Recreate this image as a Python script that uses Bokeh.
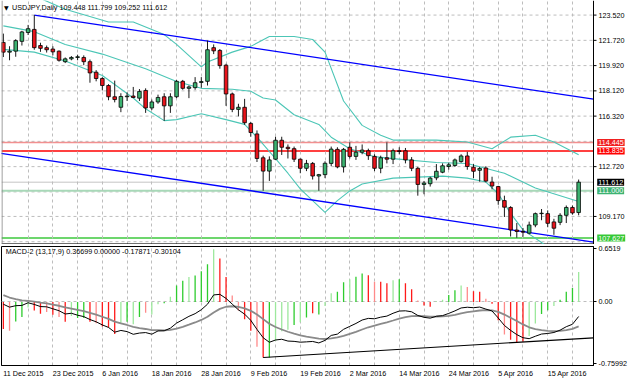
from bokeh.plotting import figure
from bokeh.layouts import column
from bokeh.models import Range1d, FixedTicker, Label, Span, ColumnDataSource, NumeralTickFormatter
from bokeh.embed import file_html
from bokeh.resources import INLINE

# ------------------------------------------------------------------ data
date_tick_bars = [0, 8, 16, 24, 32, 40, 48, 56, 64, 72, 80, 88]
date_tick_labels = ["11 Dec 2015", "23 Dec 2015", "6 Jan 2016", "18 Jan 2016", "28 Jan 2016",
                    "9 Feb 2016", "19 Feb 2016", "2 Mar 2016", "14 Mar 2016", "24 Mar 2016",
                    "5 Apr 2016", "15 Apr 2016"]

opens = [121.57, 120.88, 120.95, 121.65, 122.28, 122.50, 121.35, 121.20, 121.10, 120.95,
         120.20, 120.40, 120.50, 120.50, 120.20, 119.45, 119.00, 118.50, 117.70, 116.95,
         117.70, 117.75, 117.60, 118.15, 116.90, 117.33, 117.70, 117.05, 117.70, 118.80,
         118.30, 118.35, 118.72, 118.80, 121.20, 121.00, 119.95, 117.90, 116.80, 116.95,
         115.80, 115.05, 113.35, 112.40, 113.25, 114.60, 114.10, 114.00, 113.25, 112.60,
         112.95, 112.05, 112.15, 112.95, 113.95, 112.70, 114.10, 113.45, 113.75, 113.85,
         113.45, 112.60, 113.35, 113.25, 113.85, 113.85, 113.20, 112.60, 111.45, 111.50,
         111.92, 112.32, 112.73, 112.80, 113.08, 113.48, 112.68, 112.46, 112.62, 111.62,
         111.30, 110.30, 109.81, 108.20, 108.10, 107.98, 108.56, 109.37, 109.37, 108.78,
         108.75, 109.25, 109.81, 109.448]
highs = [122.20, 121.30, 121.80, 122.40, 122.82, 123.52, 121.55, 121.35, 121.30, 121.00,
         120.50, 120.60, 120.70, 120.65, 120.35, 119.60, 119.10, 118.60, 118.85, 117.95,
         118.00, 118.40, 118.25, 118.30, 117.50, 117.85, 117.95, 117.95, 118.90, 118.90,
         118.50, 119.10, 119.10, 121.70, 121.43, 121.10, 120.05, 118.00, 117.20, 117.55,
         115.90, 115.30, 113.50, 113.45, 114.85, 114.85, 114.30, 114.15, 113.30, 113.20,
         113.05, 112.20, 113.10, 114.15, 114.10, 114.05, 114.45, 114.20, 114.30, 114.00,
         113.60, 113.50, 114.45, 114.00, 114.10, 114.05, 113.40, 112.70, 111.70, 112.00,
         112.90, 112.95, 113.00, 113.30, 113.60, 113.78, 112.90, 112.70, 112.75, 112.00,
         111.35, 110.65, 109.90, 108.70, 108.35, 108.80, 109.45, 109.70, 109.60, 109.00,
         109.40, 109.95, 109.95, 111.799]
lows = [120.53, 120.30, 120.55, 121.35, 122.10, 121.05, 120.90, 120.85, 120.65, 120.20,
        120.10, 120.30, 120.30, 119.95, 118.70, 118.80, 118.15, 117.45, 117.30, 116.60,
        117.40, 117.60, 117.40, 116.55, 116.75, 117.20, 115.98, 116.55, 117.60, 118.20,
        117.60, 118.20, 118.35, 118.50, 120.74, 119.70, 117.05, 116.60, 116.30, 115.70,
        114.85, 113.05, 111.00, 111.70, 113.20, 113.55, 113.30, 113.05, 112.25, 112.40,
        111.80, 111.00, 111.90, 112.75, 112.60, 112.30, 113.30, 113.20, 113.60, 113.20,
        112.40, 112.25, 112.95, 112.90, 113.60, 112.95, 112.40, 110.65, 110.75, 111.30,
        111.75, 112.25, 112.50, 112.70, 113.00, 112.50, 111.90, 111.65, 111.60, 111.10,
        110.00, 109.13, 107.74, 107.65, 107.72, 107.90, 108.40, 108.90, 108.40, 107.86,
        108.55, 108.70, 109.30, 109.252]
closes = [120.88, 120.95, 121.70, 122.32, 122.55, 121.20, 121.15, 121.05, 120.90, 120.30,
          120.40, 120.50, 120.55, 120.20, 119.40, 119.00, 118.50, 117.70, 117.50, 117.72,
          117.75, 117.65, 118.08, 116.90, 117.33, 117.65, 117.05, 117.70, 118.80, 118.30,
          118.40, 118.70, 118.78, 121.05, 120.97, 119.92, 117.90, 116.80, 116.95, 115.85,
          115.15, 113.30, 112.40, 113.20, 114.60, 114.10, 114.00, 113.25, 112.60, 112.95,
          112.05, 112.15, 112.96, 113.97, 112.70, 113.95, 113.45, 113.75, 113.90, 113.50,
          112.60, 113.35, 113.25, 113.85, 113.80, 113.20, 112.60, 111.45, 111.55, 111.90,
          112.39, 112.78, 112.85, 113.20, 113.48, 112.73, 112.39, 112.59, 111.69, 111.34,
          110.30, 109.83, 108.21, 108.10, 108.05, 108.56, 109.37, 109.40, 108.68, 108.33,
          109.25, 109.81, 109.42, 111.612]

# Bollinger bands (bar index, price)
bb_upper_x = [-1, 6, 10, 17, 21, 26, 28, 32, 33, 37, 40, 43, 47, 50, 52, 55, 58, 61, 63, 70, 75, 79, 82, 86, 89, 93]
bb_upper_y = [125.61, 124.70, 123.94, 123.03, 123.03, 122.13, 121.43, 119.83, 120.18, 120.88, 121.29, 121.99,
              121.99, 121.78, 120.88, 117.40, 115.66, 114.96, 114.61, 114.61, 114.47, 113.99, 114.82, 114.96,
              114.47, 113.57]
bb_mid_x = [0, 5, 10, 16, 23, 28, 32, 37, 40, 42, 44, 47, 51, 53, 56, 60, 63, 70, 75, 81, 86, 93]
bb_mid_y = [122.75, 122.34, 121.43, 120.74, 119.69, 118.79, 118.30, 118.23, 118.09, 117.61, 117.47, 116.42,
            115.73, 114.82, 113.99, 113.43, 113.29, 113.01, 112.94, 112.25, 111.20, 110.23]
bb_lower_x = [0, 5, 10, 16, 21, 23, 26, 28, 32, 36, 39, 41, 44, 46, 48, 50, 52, 54, 56, 58, 63, 71, 75, 78,
              80, 82, 84, 87, 89, 94]
bb_lower_y = [121.08, 120.88, 120.25, 119.21, 117.61, 116.84, 116.00, 116.07, 116.49, 116.07, 115.73, 114.82,
              113.29, 112.25, 111.13, 110.30, 109.46, 110.30, 110.99, 111.48, 111.90, 112.04, 111.90, 111.62,
              110.79, 109.39, 108.21, 107.31, 106.61, 106.05]

# trend channel, anchors (ends at the price scale)
chan_upper_x = [5, 95.4]
chan_upper_y = [123.52, 117.53]
chan_lower_x = [-1, 95.4]
chan_lower_y = [113.71, 107.34]

# horizontal price levels
level_prices = [114.445, 113.835, 111.612, 111.000, 107.627]
level_line_colors = ["#F29090", "#FF0000", "#C4C4C4", "#A8D8B8", "#3CC83C"]
level_box_colors = ["#F02020", "#FF0000", "#000000", "#3CB371", "#36C836"]
level_line_widths = [1.5, 1.5, 1, 2, 1.5]

price_grid = [123.52, 121.72, 119.92, 118.12, 116.32, 114.52, 112.72, 110.92, 109.17, 107.37]
price_ticks = [123.52, 121.72, 119.92, 118.12, 116.32, 112.72, 109.17]

# MACD-2 (13,17,9): histogram per bar and its colour class, MACD and signal lines
macd_hist = [-0.333, -0.353, -0.240, -0.184, -0.067, -0.106, -0.145, -0.125, -0.157, -0.184,
             -0.243, -0.173, -0.196, -0.196, -0.243, -0.263, -0.302, -0.314, -0.392, -0.263,
             -0.243, -0.275, -0.184, -0.133, -0.153, -0.027, -0.016, 0.063, 0.200, 0.259,
             0.306, 0.325, 0.376, 0.463, 0.645, 0.533, 0.306, 0.078, -0.106, -0.212,
             -0.353, -0.549, -0.682, -0.682, -0.478, -0.361, -0.341, -0.282, -0.250, -0.190,
             -0.140, -0.155, -0.050, 0.105, 0.124, 0.240, 0.279, 0.310, 0.349, 0.326,
             0.248, 0.248, 0.229, 0.267, 0.279, 0.229, 0.155, 0.016, -0.043, -0.058,
             0.008, 0.027, 0.085, 0.143, 0.200, 0.182, 0.132, 0.124, 0.039, -0.023,
             -0.225, -0.400, -0.465, -0.496, -0.488, -0.419, -0.264, -0.147, -0.101, -0.050,
             0.027, 0.124, 0.171, 0.367]
macd_hist_class = list("RrGGgRRrRr" "RgGGRrRRRg" "GgGrggGgGG" "gGGGgRRrrR"
                       "RrRGgggGgG" "RGggGGgGGR" "rRRgGRRrRR" "ggGGgrRRrR"
                       "RrRRRggGGg" "GGGg")
macd_main = [-0.028, -0.064, -0.046, -0.043, -0.010, -0.031, -0.057, -0.060, -0.084, -0.108,
             -0.148, -0.139, -0.163, -0.180, -0.216, -0.244, -0.282, -0.313, -0.371, -0.350,
             -0.364, -0.397, -0.382, -0.376, -0.396, -0.356, -0.354, -0.322, -0.260, -0.219,
             -0.177, -0.144, -0.096, -0.028, 0.086, 0.093, 0.043, -0.027, -0.097, -0.150,
             -0.226, -0.337, -0.439, -0.495, -0.467, -0.458, -0.480, -0.484, -0.494, -0.490,
             -0.485, -0.503, -0.472, -0.411, -0.395, -0.336, -0.300, -0.264, -0.222, -0.202,
             -0.207, -0.187, -0.174, -0.139, -0.112, -0.109, -0.121, -0.166, -0.189, -0.199,
             -0.176, -0.168, -0.141, -0.110, -0.074, -0.065, -0.071, -0.063, -0.088, -0.111,
             -0.197, -0.289, -0.349, -0.401, -0.439, -0.451, -0.421, -0.394, -0.387, -0.375,
             -0.346, -0.304, -0.274, -0.179]
macd_signal = [0.083, 0.054, 0.034, 0.018, 0.013, 0.004, -0.008, -0.019, -0.032, -0.047,
               -0.067, -0.082, -0.098, -0.114, -0.135, -0.157, -0.182, -0.208, -0.241, -0.263,
               -0.283, -0.306, -0.321, -0.332, -0.345, -0.347, -0.349, -0.343, -0.327, -0.305,
               -0.279, -0.252, -0.221, -0.182, -0.129, -0.085, -0.059, -0.053, -0.062, -0.079,
               -0.109, -0.154, -0.211, -0.268, -0.308, -0.338, -0.366, -0.390, -0.411, -0.426,
               -0.438, -0.451, -0.455, -0.446, -0.436, -0.416, -0.393, -0.367, -0.338, -0.311,
               -0.290, -0.269, -0.250, -0.228, -0.205, -0.186, -0.173, -0.171, -0.175, -0.180,
               -0.179, -0.177, -0.170, -0.158, -0.141, -0.126, -0.115, -0.105, -0.101, -0.103,
               -0.122, -0.155, -0.194, -0.235, -0.276, -0.311, -0.333, -0.345, -0.354, -0.358,
               -0.356, -0.345, -0.331, -0.301]
macd_trend_x = [42, 95.4]
macd_trend_v = [-0.682, -0.440]
macd_ticks = [0.6519, 0.0, -0.75992]
macd_tick_labels = ["0.6519", "0.00", "-0.75992"]

# ------------------------------------------------------------------ style / geometry
FONT = "Liberation Sans"
FS = "7.2px"
BULL = "#3CB371"
BEAR = "#E8141B"
BAND = "#4CC6B6"
GRID = "#BDBDBD"
HIST_COLORS = {"G": "#2ECC2E", "g": "#9DE89D", "R": "#FF1A1A", "r": "#FF8A8A"}
X0, XA = -0.3, 95.4           # left edge and price-scale position in bar units
CHART_W, SCALE_W = 592, 33     # chart width, price scale width (px)
XR = X0 + (CHART_W + SCALE_W) * (XA - X0) / CHART_W
TICK = 3.0 * (XA - X0) / CHART_W   # 3 px expressed in bar units
Y0, Y1 = 107.17, 124.56

n = len(closes)
bars = list(range(n))

# ------------------------------------------------------------------ price panel
p1 = figure(frame_width=CHART_W + SCALE_W, frame_height=244, x_range=Range1d(X0, XR),
            y_range=Range1d(Y0, Y1), y_axis_location="right", toolbar_location=None,
            output_backend="svg", min_border_left=1, min_border_right=0, min_border_top=0,
            min_border_bottom=0)
p1.xaxis.visible = False
p1.outline_line_color = None
p1.ygrid.visible = False
p1.xgrid.ticker = FixedTicker(ticks=list(range(4, 96, 4)))
p1.xgrid.grid_line_color = GRID
p1.xgrid.grid_line_dash = "3 3"

# price scale: real axis, labels placed inside the right-hand strip
p1.yaxis.ticker = FixedTicker(ticks=price_ticks)
p1.yaxis.formatter = NumeralTickFormatter(format="0.000")
p1.yaxis.major_label_standoff = -(SCALE_W - 5)
p1.yaxis.major_tick_out = 0
p1.yaxis.major_tick_in = 0
p1.yaxis.minor_tick_out = 0
p1.yaxis.minor_tick_in = 0
p1.yaxis.axis_line_color = None
p1.yaxis.major_label_text_font = FONT
p1.yaxis.major_label_text_font_size = FS
p1.yaxis.major_label_text_color = "black"

# horizontal grid (stops at the price scale)
p1.segment(x0=[X0] * len(price_grid), y0=price_grid, x1=[XA] * len(price_grid), y1=price_grid,
           line_color=GRID, line_dash="3 3", line_width=1, level="underlay")
# price levels
p1.segment(x0=[X0] * len(level_prices), y0=level_prices, x1=[XA] * len(level_prices), y1=level_prices,
           line_color=level_line_colors, line_width=level_line_widths, level="underlay")

# borders, scale line and its tick marks
p1.add_layout(Span(location=XA, dimension="height", line_color="black", line_width=1))
p1.add_layout(Span(location=X0 + 0.08, dimension="height", line_color="#808080", line_width=1))
p1.segment(x0=[X0], y0=[Y0 + 0.04], x1=[XA], y1=[Y0 + 0.04], line_color="black", line_width=1)
p1.segment(x0=[XA] * len(price_ticks), y0=price_ticks, x1=[XA + TICK] * len(price_ticks), y1=price_ticks,
           line_color="black", line_width=1)

# bands and channel
p1.line(bb_upper_x, bb_upper_y, line_color=BAND, line_width=1.1)
p1.line(bb_mid_x, bb_mid_y, line_color=BAND, line_width=1.1)
p1.line(bb_lower_x, bb_lower_y, line_color=BAND, line_width=1.1)
p1.line(chan_upper_x, chan_upper_y, line_color="#0000FF", line_width=1.3)
p1.line(chan_lower_x, chan_lower_y, line_color="#0000FF", line_width=1.3)

# candles
src = ColumnDataSource(dict(
    x=bars, o=opens, h=highs, l=lows, c=closes,
    top=[max(o, c) for o, c in zip(opens, closes)],
    bot=[min(o, c) for o, c in zip(opens, closes)],
    col=[BULL if c >= o else BEAR for o, c in zip(opens, closes)],
))
p1.segment(x0="x", y0="l", x1="x", y1="h", source=src, line_color="#1A1A1A", line_width=1)
p1.vbar(x="x", top="top", bottom="bot", width=0.58, source=src, fill_color="col",
        line_color="#000000", line_width=0.8)

# price boxes on the scale
for lv, bc in zip(level_prices, level_box_colors):
    p1.add_layout(Label(x=XA + 0.6, y=lv, text=f"{lv:.3f}", text_font=FONT, text_font_size=FS,
                        text_color="white", text_baseline="middle", background_fill_color=bc,
                        padding=1))

p1.add_layout(Label(x=0.1, y=124.05, text="\u25BC", text_font="DejaVu Sans", text_font_size="6px",
                    text_baseline="middle", text_color="black"))
p1.add_layout(Label(x=1.4, y=124.05, text="USDJPY,Daily  109.448 111.799 109.252 111.612",
                    text_font=FONT, text_font_size=FS, text_baseline="middle", text_color="black"))

# ------------------------------------------------------------------ MACD panel
p2 = figure(frame_width=CHART_W, frame_height=119, x_range=Range1d(X0, XA), y_range=Range1d(-0.78, 0.68),
            y_axis_location="right", toolbar_location=None, output_backend="svg",
            min_border_left=1, min_border_right=SCALE_W, min_border_top=2, min_border_bottom=0)
p2.outline_line_color = "black"
p2.yaxis.ticker = FixedTicker(ticks=macd_ticks)
p2.yaxis.major_label_overrides = {t: s for t, s in zip(macd_ticks, macd_tick_labels)}
p2.ygrid.ticker = FixedTicker(ticks=[0.0])
p2.xgrid.ticker = FixedTicker(ticks=list(range(4, 96, 4)))
for g in (p2.xgrid, p2.ygrid):
    g.grid_line_color = GRID
    g.grid_line_dash = "3 3"
p2.xaxis.ticker = FixedTicker(ticks=date_tick_bars)
p2.xaxis.major_label_overrides = {b: s for b, s in zip(date_tick_bars, date_tick_labels)}
p2.xaxis.major_label_orientation = -0.0001

hist_src = ColumnDataSource(dict(x=bars, v=macd_hist, z=[0.0] * n,
                                 col=[HIST_COLORS[k] for k in macd_hist_class]))
p2.segment(x0="x", y0="z", x1="x", y1="v", source=hist_src, line_color="col", line_width=1.3)
p2.line(bars, macd_signal, line_color="#8A8A8A", line_width=1.8)
p2.line(bars, macd_main, line_color="#000000", line_width=1)
p2.line(macd_trend_x, macd_trend_v, line_color="#000000", line_width=1.2)
p2.add_layout(Label(x=0.4, y=0.615, text="MACD-2 (13,17,9) 0.36699 0.00000 -0.17871 -0.30104",
                    text_font=FONT, text_font_size=FS, text_baseline="middle", text_color="black"))

for ax in p2.yaxis:
    ax.major_label_text_font = FONT
    ax.major_label_text_font_size = FS
    ax.major_label_text_color = "black"
    ax.major_tick_in = 0
    ax.major_tick_out = 3
    ax.minor_tick_out = 0
    ax.minor_tick_in = 0
    ax.major_label_standoff = 2
    ax.axis_line_color = "black"
for ax in p2.xaxis:
    ax.major_label_text_font = FONT
    ax.major_label_text_font_size = FS
    ax.major_label_text_color = "black"
    ax.major_tick_in = 0
    ax.major_tick_out = 0
    ax.minor_tick_out = 0
    ax.minor_tick_in = 0
    ax.major_label_standoff = 8
    ax.axis_line_color = "black"

layout = column(p1, p2, spacing=0)
open("out.html", "w").write(file_html(layout, INLINE))
